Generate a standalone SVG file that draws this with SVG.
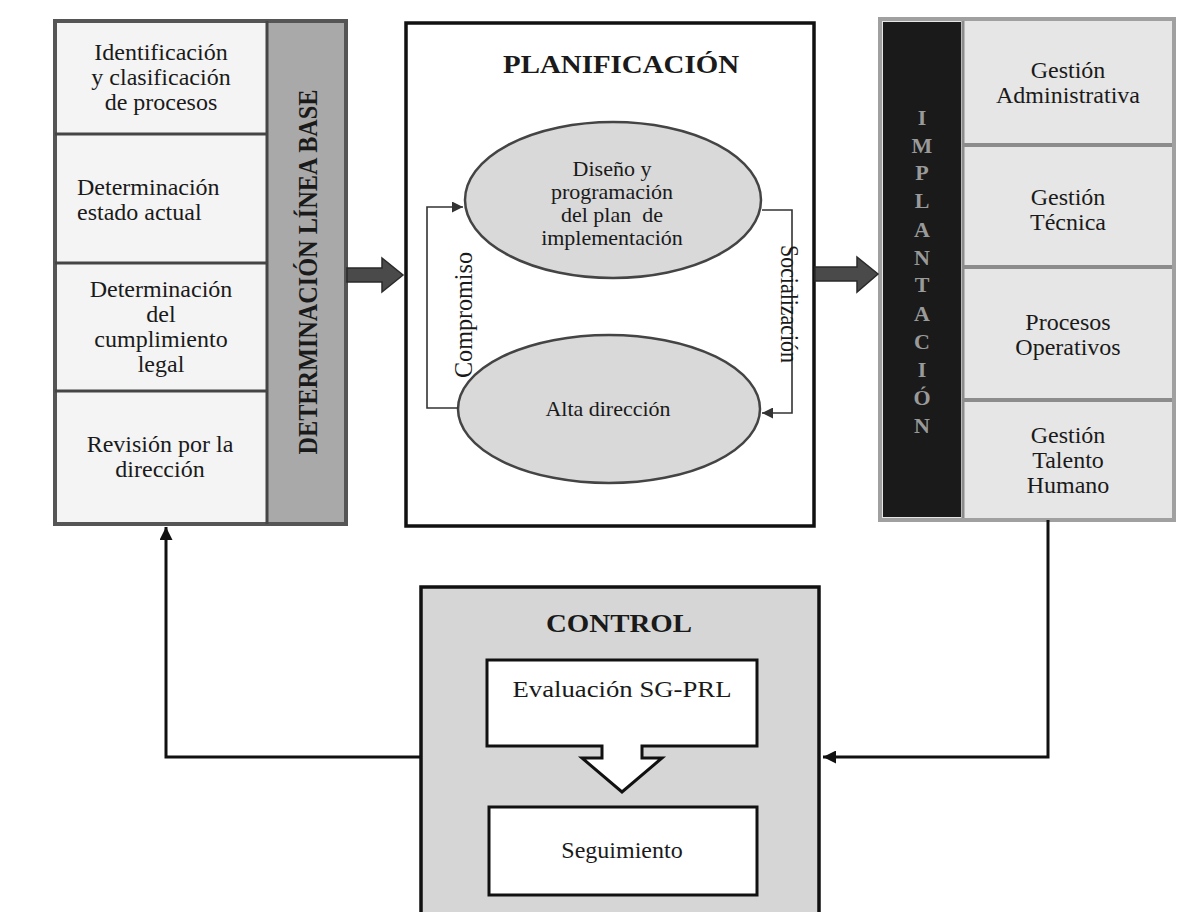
<svg xmlns="http://www.w3.org/2000/svg" width="1178" height="912" viewBox="0 0 1178 912">
<defs>
<style>
text{font-family:"Liberation Serif","Times New Roman",serif;fill:#1a1a1a}
.b{font-size:24px;text-anchor:middle}
.e{font-size:22px;text-anchor:middle}
.t{font-weight:bold;text-anchor:middle}
.v{font-size:22px;font-weight:bold;text-anchor:middle;fill:#9a9a9a}
.div{stroke:#454545;stroke-width:3}
.rdiv{stroke:#8c8c8c;stroke-width:4}
.conn{fill:none;stroke:#111;stroke-width:3}
.thin{fill:none;stroke:#333;stroke-width:1.6}
.blk{fill:#4a4a4a;stroke:#2a2a2a;stroke-width:1.5}
</style>
<marker id="ah" viewBox="0 0 10 10" refX="10" refY="5" markerWidth="13" markerHeight="13" markerUnits="userSpaceOnUse" orient="auto">
<path d="M0,0 L10,5 L0,10 Z" fill="#111"/>
</marker>
<marker id="ahs" viewBox="0 0 10 10" refX="10" refY="5" markerWidth="11" markerHeight="11" markerUnits="userSpaceOnUse" orient="auto">
<path d="M0,0 L10,5 L0,10 Z" fill="#333"/>
</marker>
</defs>
<rect width="1178" height="912" fill="#fff"/>

<g id="linea-base">
<rect x="55" y="21" width="291" height="503" fill="#f4f4f4" stroke="#555" stroke-width="4"/>
<rect x="267" y="23" width="77" height="499" fill="#a9a9a9"/>
<line class="div" x1="267" y1="21" x2="267" y2="524"/>
<line class="div" x1="55" y1="134" x2="267" y2="134"/>
<line class="div" x1="55" y1="263" x2="267" y2="263"/>
<line class="div" x1="55" y1="391" x2="267" y2="391"/>
<text class="b" x="161" y="60">Identificación</text>
<text class="b" x="161" y="85">y clasificación</text>
<text class="b" x="161" y="110">de procesos</text>
<text class="b" x="77" y="195" style="text-anchor:start">Determinación</text>
<text class="b" x="77" y="220" style="text-anchor:start">estado actual</text>
<text class="b" x="161" y="297">Determinación</text>
<text class="b" x="161" y="322">del</text>
<text class="b" x="161" y="347">cumplimiento</text>
<text class="b" x="161" y="372">legal</text>
<text class="b" x="160" y="452">Revisión por la</text>
<text class="b" x="160" y="477">dirección</text>
<text class="t" transform="translate(307,272) rotate(-90)" x="0" y="10" font-size="27" textLength="365" lengthAdjust="spacingAndGlyphs">DETERMINACIÓN LÍNEA BASE</text>
</g>

<g id="planificacion">
<rect x="406" y="23" width="408" height="503" fill="#fff" stroke="#111" stroke-width="3.5"/>
<text class="t" x="621" y="73" font-size="26" textLength="236" lengthAdjust="spacingAndGlyphs">PLANIFICACIÓN</text>
</g>

<g id="diseno">
<ellipse cx="613" cy="200" rx="148" ry="78" fill="#d9d9d9" stroke="#444" stroke-width="2.5"/>
<text class="e" x="612" y="176">Diseño y</text>
<text class="e" x="612" y="199">programación</text>
<text class="e" x="612" y="222" xml:space="preserve">del plan  de</text>
<text class="e" x="612" y="245">implementación</text>
</g>

<g id="alta-direccion">
<ellipse cx="609" cy="409" rx="151" ry="74" fill="#d9d9d9" stroke="#444" stroke-width="2.5"/>
<text class="e" x="608" y="416">Alta dirección</text>
</g>

<g id="implantacion">
<rect x="880" y="19" width="294" height="501" fill="#e6e6e6" stroke="#a0a0a0" stroke-width="4"/>
<rect x="883" y="22" width="78" height="495" fill="#1a1a1a"/>
<line x1="963" y1="21" x2="963" y2="518" stroke="#8c8c8c" stroke-width="3"/>
<line class="rdiv" x1="963" y1="145" x2="1172" y2="145"/>
<line class="rdiv" x1="963" y1="267" x2="1172" y2="267"/>
<line class="rdiv" x1="963" y1="400" x2="1172" y2="400"/>
<text class="v" x="922" y="125">I</text>
<text class="v" x="922" y="153">M</text>
<text class="v" x="922" y="180">P</text>
<text class="v" x="922" y="208">L</text>
<text class="v" x="922" y="237">A</text>
<text class="v" x="922" y="265">N</text>
<text class="v" x="922" y="292">T</text>
<text class="v" x="922" y="321">A</text>
<text class="v" x="922" y="349">C</text>
<text class="v" x="922" y="377">I</text>
<text class="v" x="922" y="405">Ó</text>
<text class="v" x="922" y="433">N</text>
<text class="b" x="1068" y="78">Gestión</text>
<text class="b" x="1068" y="103">Administrativa</text>
<text class="b" x="1068" y="205">Gestión</text>
<text class="b" x="1068" y="230">Técnica</text>
<text class="b" x="1068" y="330">Procesos</text>
<text class="b" x="1068" y="355">Operativos</text>
<text class="b" x="1068" y="443">Gestión</text>
<text class="b" x="1068" y="468">Talento</text>
<text class="b" x="1068" y="493">Humano</text>
</g>

<g id="control">
<rect x="421" y="587" width="398" height="345" fill="#d6d6d6" stroke="#111" stroke-width="3.5"/>
<text class="t" x="619" y="632" font-size="25" textLength="146" lengthAdjust="spacingAndGlyphs">CONTROL</text>
</g>

<g id="evaluacion">
<path d="M487,660 H757 V746 H642 V758 H662 L622,792 L582,758 H602 V746 H487 Z" fill="#fff" stroke="#111" stroke-width="3"/>
<text class="b" x="622" y="697" font-size="25" textLength="219" lengthAdjust="spacingAndGlyphs">Evaluación SG-PRL</text>
</g>

<g id="seguimiento">
<rect x="489" y="807" width="268" height="88" fill="#fff" stroke="#111" stroke-width="3"/>
<text class="b" x="622" y="858" font-size="24">Seguimiento</text>
</g>

<g id="connectors">
<path class="blk" d="M347,268 H382 V258 L403,275 L382,292 V282 H347 Z"/>
<path class="blk" d="M815,267 H857 V257 L878,274 L857,292 V281 H815 Z"/>
<path class="thin" d="M458,408 H427 V207 H463" marker-end="url(#ahs)"/>
<path class="thin" d="M762,210 H792 V413 H762" marker-end="url(#ahs)"/>
<text transform="translate(464,315) rotate(-90)" x="0" y="8" font-size="25" text-anchor="middle" textLength="126" lengthAdjust="spacingAndGlyphs">Compromiso</text>
<text transform="translate(772,304) rotate(90)" x="0" y="-9" font-size="25" text-anchor="middle" textLength="118" lengthAdjust="spacingAndGlyphs">Socialización</text>
<path class="conn" d="M1048,520 V757 H823" marker-end="url(#ah)"/>
<path class="conn" d="M421,757 H166 V527" marker-end="url(#ah)"/>
</g>
</svg>
